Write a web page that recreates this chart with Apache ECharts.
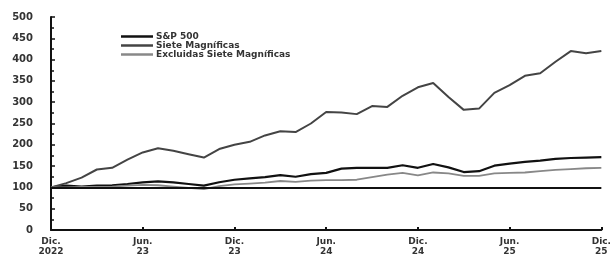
<!DOCTYPE html>
<html><head><meta charset="utf-8">
<script src="https://cdn.jsdelivr.net/npm/echarts@6/dist/echarts.min.js"></script>
<style>html,body{margin:0;padding:0;background:#fff}#c{width:614px;height:265px}</style>
</head><body><div id="c"></div>
<script>
const months = [];
const monthNames = ['Ene.','Feb.','Mar.','Abr.','May.','Jun.','Jul.','Ago.','Sep.','Oct.','Nov.','Dic.'];
for (let i = 0; i <= 36; i++) { const m = (11 + i) % 12; const y = 2022 + Math.floor((11 + i) / 12); months.push(monthNames[m] + ' ' + y); }
const tickLabels = {0:'Dic.\n2022', 6:'Jun.\n23', 12:'Dic.\n23', 18:'Jun.\n24', 24:'Dic.\n24', 30:'Jun.\n25', 36:'Dic.\n25'};
const sp500 = [100,104,102,104,105,108,112,114,112,108,104,112,118,121,124,129,125,131,134,144,146,146,146,152,146,155,147,136,138,151,156,160,163,167,169,170,171];
const siete = [100,110,123,142,146,165,182,192,186,178,170,190,200,207,222,232,230,250,277,276,272,291,289,315,335,345,312,282,285,322,340,362,368,395,420,415,420];
const excluidas = [100,100,101,101,102,104,106,105,102,99,96,103,107,109,111,115,113,116,117,117,118,124,130,134,128,135,133,127,127,133,134,135,138,141,143,145,146];
const baseline = 100;

const chart = echarts.init(document.getElementById('c'));
const fontFam = 'DejaVu Sans, sans-serif';
chart.setOption({
  animation: false,
  grid: {left: 51, right: 6, top: 17, bottom: 35},
  legend: {
    orient: 'vertical', left: 116, top: 27, itemWidth: 32, itemHeight: 8, itemGap: 0,
    icon: 'path://M0,0H32V2.5H0Z',
    textStyle: {fontFamily: fontFam, fontSize: 9, fontWeight: 'bold', color: '#333', lineHeight: 8, padding: [0,0,0,-2]},
    data: ['S&P 500', 'Siete Magníficas', 'Excluidas Siete Magníficas']
  },
  xAxis: {
    type: 'category', data: months, boundaryGap: false,
    axisLine: {lineStyle: {color: '#111', width: 2}},
    axisTick: {show: true, inside: true, length: 3, lineStyle: {width: 2, color: '#111'}, interval: function(i){return i % 6 === 0;}},
    axisLabel: {interval: function(i){return i % 6 === 0;}, formatter: function(v, i){return tickLabels[i] || '';},
      fontFamily: fontFam, fontSize: 9, fontWeight: 'bold', color: '#333', lineHeight: 10, margin: 7},
    splitLine: {show: false}
  },
  yAxis: {
    type: 'value', min: 0, max: 500, interval: 50,
    axisLine: {show: true, lineStyle: {color: '#111', width: 2}},
    axisTick: {show: true, inside: true, length: 4, lineStyle: {color: '#111', width: 1.5}},
    minorTick: {show: true, splitNumber: 2, length: 3, lineStyle: {color: '#111', width: 1.5}},
    axisLabel: {fontFamily: fontFam, fontSize: 10, fontWeight: 'bold', color: '#333', margin: 18},
    splitLine: {show: false}
  },
  series: [
    {name: 'S&P 500', type: 'line', data: sp500, symbol: 'none', lineStyle: {color: '#111', width: 2.2}, itemStyle:{color:'#111'},
      markLine: {silent: true, symbol: 'none', label: {show: false}, lineStyle: {color: '#111', width: 2, type: 'solid'}, data: [{yAxis: baseline}]}},
    {name: 'Siete Magníficas', type: 'line', data: siete, symbol: 'none', lineStyle: {color: '#444', width: 2}, itemStyle:{color:'#444'}},
    {name: 'Excluidas Siete Magníficas', type: 'line', data: excluidas, symbol: 'none', lineStyle: {color: '#888', width: 1.8}, itemStyle:{color:'#888'}}
  ]
});
</script></body></html>
